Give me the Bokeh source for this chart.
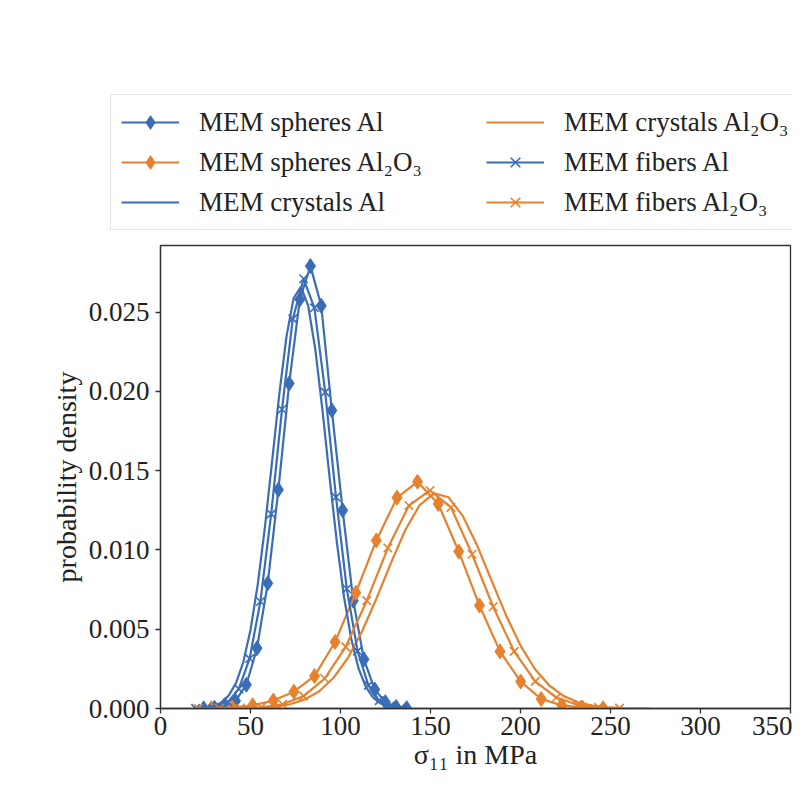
from bokeh.plotting import figure
from bokeh.models import Legend, LegendItem, Range1d, FixedTicker, NumeralTickFormatter
from bokeh.embed import file_html
from bokeh.resources import INLINE

BLUE = "#3a6db5"
ORANGE = "#e7812d"
FONT = "Liberation Serif"

# MEM spheres Al (diamonds)
sph_al_x = [24, 30, 36, 41.7, 47.7, 53.6, 59.6, 65.5, 71.5, 77.4, 83.3, 89.3, 95.2,
            101.2, 107.1, 113.0, 119.0, 124.9, 130.9, 136.8]
sph_al_y = [0.00001, 0.00004, 0.00015, 0.00048, 0.0015, 0.0038, 0.0079, 0.0138, 0.0205,
            0.0258, 0.0279, 0.0254, 0.0188, 0.0125, 0.0068, 0.0031, 0.0012, 0.0004,
            0.0001, 0.00002]

# MEM spheres Al2O3 (diamonds)
sph_ao_x = [28.3, 39.8, 51.2, 62.7, 74.1, 85.6, 97.0, 108.5, 119.9, 131.4, 142.8, 154.3,
            165.7, 177.2, 188.6, 200.1, 211.5, 223.0, 234.4, 245.9]
sph_ao_y = [0.00002, 0.00006, 0.0002, 0.0005, 0.00106, 0.00205, 0.0042, 0.0073, 0.0106,
            0.0133, 0.0143, 0.0129, 0.0099, 0.0065, 0.0036, 0.0017, 0.0006, 0.0002,
            0.00006, 0.00002]

# MEM crystals Al (line only)
cry_al_x = [22, 26, 30, 34, 38, 42, 46, 50, 54, 58, 62, 66, 70, 74, 78, 82, 86, 90, 94,
            98, 102, 106, 110, 114, 118, 122, 126, 130, 134]
cry_al_y = [0.00003, 0.00007, 0.00018, 0.0004, 0.00083, 0.00162, 0.00293, 0.00495, 0.0078,
            0.01143, 0.01559, 0.01983, 0.02347, 0.02589, 0.02659, 0.02543, 0.02266, 0.0188,
            0.01452, 0.01046, 0.0070, 0.00438, 0.00254, 0.00138, 0.0007, 0.00033, 0.00014,
            0.00006, 0.00002]

# MEM crystals Al2O3 (line only)
cry_ao_x = [40, 48, 56, 64, 72, 80, 88, 96, 104, 112, 120, 128, 136, 144, 152, 160, 168,
            176, 184, 192, 200, 208, 216, 224, 232, 240, 248, 256, 264, 272]
cry_ao_y = [0.00001, 0.00002, 0.00005, 0.00012, 0.00027, 0.00056, 0.00107, 0.00192, 0.00317,
            0.00487, 0.00694, 0.00917, 0.01126, 0.01283, 0.01357, 0.01332, 0.01213, 0.01026,
            0.00805, 0.00587, 0.00397, 0.00249, 0.00145, 0.00078, 0.00039, 0.00018, 0.00008,
            0.00003, 0.00001, 0.0]

# MEM fibers Al (x markers)
fib_al_x = [19.5, 25.5, 31.5, 37.5, 43.5, 49.5, 55.5, 61.5, 67.5, 73.5, 79.5, 85.5, 91.5,
            97.5, 103.5, 109.5, 115.5, 121.5, 127.5, 133.5]
fib_al_y = [0.00001, 0.00003, 0.00012, 0.00041, 0.00124, 0.00315, 0.00675, 0.01227, 0.01887,
            0.02457, 0.0271, 0.02527, 0.01995, 0.01333, 0.00755, 0.00362, 0.00146, 0.0005,
            0.00015, 0.00004]

# MEM fibers Al2O3 (x markers)
fib_ao_x = [21.0, 32.7, 44.4, 56.1, 67.8, 79.5, 91.2, 102.9, 114.6, 126.3, 138.0, 149.7,
            161.4, 173.1, 184.8, 196.5, 208.2, 219.9, 231.6, 243.3, 255.0]
fib_ao_y = [0.0, 0.00001, 0.00002, 0.00008, 0.00027, 0.00078, 0.00189, 0.00389, 0.0068,
            0.01012, 0.0128, 0.01375, 0.01268, 0.00973, 0.00642, 0.0036, 0.00171, 0.00069,
            0.00024, 0.00007, 0.00002]

labels = ["MEM spheres Al", "MEM spheres Al₂O₃", "MEM crystals Al",
          "MEM crystals Al₂O₃", "MEM fibers Al", "MEM fibers Al₂O₃"]

x_ticks = [0, 50, 100, 150, 200, 250, 300, 350]
y_ticks = [0.0, 0.005, 0.010, 0.015, 0.020, 0.025]

LEG_H = 240

# ---- legend strip (separate root above the axes); its ranges keep the proxy
#      glyphs out of view so that only the legend shows ----
lg = figure(width=792, height=LEG_H, output_backend="svg", toolbar_location=None,
            x_axis_type=None, y_axis_type=None,
            x_range=Range1d(-1000, -999), y_range=Range1d(-1000, -999),
            min_border=0, outline_line_color=None)
lg.xgrid.visible = False
lg.ygrid.visible = False

# ---- main axes ----
p = figure(width=792, height=545, output_backend="svg", toolbar_location=None,
           x_range=Range1d(0, 350), y_range=Range1d(0, 0.0292),
           min_border_left=160, min_border_right=2, min_border_top=5, min_border_bottom=77)

p.xgrid.visible = False
p.ygrid.visible = False
p.outline_line_color = "#333333"
p.outline_line_width = 1.3

for ax in (p.xaxis, p.yaxis):
    ax.axis_line_color = "#333333"
    ax.axis_line_width = 1.3
    ax.major_tick_line_color = "#333333"
    ax.major_tick_line_width = 1.3
    ax.major_tick_out = 5
    ax.major_tick_in = 0
    ax.minor_tick_line_color = None
    ax.major_label_text_font = FONT
    ax.major_label_text_font_size = "27px"
    ax.major_label_text_color = "#222222"
    ax.axis_label_text_font = FONT
    ax.axis_label_text_font_size = "28px"
    ax.axis_label_text_color = "#222222"
    ax.axis_label_text_font_style = "normal"

p.xaxis.ticker = FixedTicker(ticks=x_ticks)
p.yaxis.ticker = FixedTicker(ticks=y_ticks)
p.yaxis.formatter = NumeralTickFormatter(format="0.000")
p.xaxis.major_label_standoff = 3
p.yaxis.major_label_standoff = 6
p.xaxis.axis_label_standoff = 1
p.yaxis.axis_label_standoff = 4
p.xaxis.axis_label = "σ₁₁ in MPa"
p.yaxis.axis_label = "probability density"

LW = 2.2
items = []

def add_series(fig, xs, ys, color, marker):
    rs = [fig.line(xs, ys, line_color=color, line_width=LW)]
    if marker == "diamond":
        rs.append(fig.scatter(xs, ys, marker="diamond", size=15, fill_color=color, line_color=color))
    elif marker == "x":
        rs.append(fig.scatter(xs, ys, marker="x", size=12, line_color=color, line_width=1.6))
    return rs

specs = [
    (sph_al_x, sph_al_y, BLUE, "diamond"),
    (sph_ao_x, sph_ao_y, ORANGE, "diamond"),
    (cry_al_x, cry_al_y, BLUE, None),
    (cry_ao_x, cry_ao_y, ORANGE, None),
    (fib_al_x, fib_al_y, BLUE, "x"),
    (fib_ao_x, fib_ao_y, ORANGE, "x"),
]

for (xs, ys, c, m), lab in zip(specs, labels):
    add_series(p, xs, ys, c, m)
    # legend proxies in the legend strip (same data, outside its visible ranges)
    rs = add_series(lg, xs[:2], ys[:2], c, m)
    items.append(LegendItem(label=lab, renderers=rs))

legend = Legend(items=items, location=(110, 10), ncols=2,
                label_text_font=FONT, label_text_font_size="27px", label_text_color="#222222",
                glyph_width=58, glyph_height=34, label_standoff=20, label_width=281,
                spacing=6, padding=10, margin=0,
                border_line_color="#cccccc", border_line_width=1.2,
                background_fill_color="white", background_fill_alpha=1.0)
lg.add_layout(legend)

open("out.html", "w").write(file_html([lg, p], INLINE))
